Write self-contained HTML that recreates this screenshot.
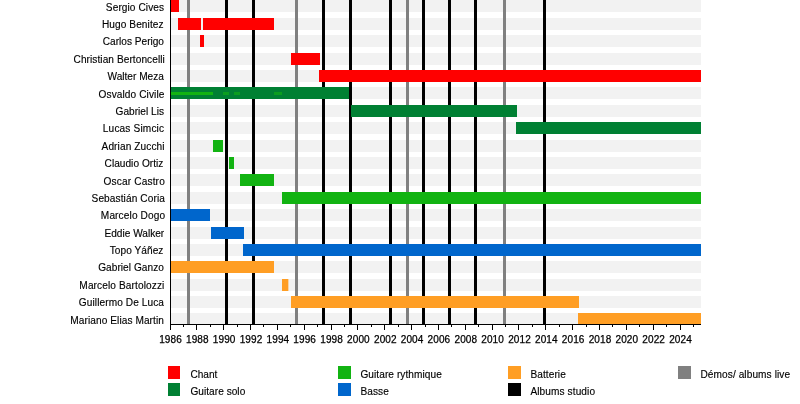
<!DOCTYPE html>
<html lang="fr"><head><meta charset="utf-8"><title>Timeline</title>
<style>html,body{margin:0;padding:0;background:#fff}svg{display:block}text{font-family:"Liberation Sans",Arial,Helvetica,sans-serif;font-size:11px;fill:#000}text{stroke:#000;stroke-width:0.15px}.ax{font-size:10px;letter-spacing:0.1px;stroke-width:0.25px}</style></head><body>
<svg width="800" height="404" viewBox="0 0 800 404">
<rect width="800" height="404" fill="#fff"/>
<g shape-rendering="crispEdges">
<rect x="170" y="0" width="531" height="12" fill="#f2f2f2"/>
<rect x="170" y="18" width="531" height="12" fill="#f2f2f2"/>
<rect x="170" y="35" width="531" height="12" fill="#f2f2f2"/>
<rect x="170" y="53" width="531" height="12" fill="#f2f2f2"/>
<rect x="170" y="70" width="531" height="12" fill="#f2f2f2"/>
<rect x="170" y="87" width="531" height="12" fill="#f2f2f2"/>
<rect x="170" y="105" width="531" height="12" fill="#f2f2f2"/>
<rect x="170" y="122" width="531" height="12" fill="#f2f2f2"/>
<rect x="170" y="140" width="531" height="12" fill="#f2f2f2"/>
<rect x="170" y="157" width="531" height="12" fill="#f2f2f2"/>
<rect x="170" y="174" width="531" height="12" fill="#f2f2f2"/>
<rect x="170" y="192" width="531" height="12" fill="#f2f2f2"/>
<rect x="170" y="209" width="531" height="12" fill="#f2f2f2"/>
<rect x="170" y="227" width="531" height="12" fill="#f2f2f2"/>
<rect x="170" y="244" width="531" height="12" fill="#f2f2f2"/>
<rect x="170" y="261" width="531" height="12" fill="#f2f2f2"/>
<rect x="170" y="279" width="531" height="12" fill="#f2f2f2"/>
<rect x="170" y="296" width="531" height="12" fill="#f2f2f2"/>
<rect x="170" y="313" width="531" height="12" fill="#f2f2f2"/>
<rect x="187" y="0" width="3" height="325" fill="#808080"/>
<rect x="225" y="0" width="3" height="325" fill="#000000"/>
<rect x="252" y="0" width="3" height="325" fill="#000000"/>
<rect x="295" y="0" width="3" height="325" fill="#808080"/>
<rect x="322" y="0" width="3" height="325" fill="#000000"/>
<rect x="349" y="0" width="3" height="325" fill="#000000"/>
<rect x="389" y="0" width="3" height="325" fill="#000000"/>
<rect x="406" y="0" width="3" height="325" fill="#808080"/>
<rect x="422" y="0" width="3" height="325" fill="#000000"/>
<rect x="448" y="0" width="3" height="325" fill="#000000"/>
<rect x="474" y="0" width="3" height="325" fill="#000000"/>
<rect x="503" y="0" width="3" height="325" fill="#808080"/>
<rect x="543" y="0" width="3" height="325" fill="#000000"/>
<rect x="170" y="0" width="9" height="12" fill="#ff0000"/>
<rect x="178" y="18" width="23" height="12" fill="#ff0000"/>
<rect x="203" y="18" width="71" height="12" fill="#ff0000"/>
<rect x="200" y="35" width="4" height="12" fill="#ff0000"/>
<rect x="291" y="53" width="29" height="12" fill="#ff0000"/>
<rect x="319" y="70" width="382" height="12" fill="#ff0000"/>
<rect x="170" y="87" width="179" height="12" fill="#008033"/>
<rect x="351" y="105" width="166" height="12" fill="#008033"/>
<rect x="516" y="122" width="185" height="12" fill="#008033"/>
<rect x="213" y="140" width="10" height="12" fill="#12b312"/>
<rect x="229" y="157" width="5" height="12" fill="#12b312"/>
<rect x="240" y="174" width="34" height="12" fill="#12b312"/>
<rect x="282" y="192" width="419" height="12" fill="#12b312"/>
<rect x="170" y="209" width="40" height="12" fill="#0066cc"/>
<rect x="211" y="227" width="33" height="12" fill="#0066cc"/>
<rect x="243" y="244" width="458" height="12" fill="#0066cc"/>
<rect x="170" y="261" width="104" height="12" fill="#ff9e24"/>
<rect x="282" y="279" width="6" height="12" fill="#ff9e24"/>
<rect x="291" y="296" width="288" height="12" fill="#ff9e24"/>
<rect x="578" y="313" width="123" height="12" fill="#ff9e24"/>
<rect x="170" y="92" width="43" height="3" fill="#12b312" fill-opacity="1"/>
<rect x="223" y="92" width="6" height="3" fill="#12b312" fill-opacity="0.6"/>
<rect x="234" y="92" width="6" height="3" fill="#12b312" fill-opacity="0.6"/>
<rect x="274" y="92" width="8" height="3" fill="#12b312" fill-opacity="0.6"/>
<rect x="288" y="279" width="1" height="12" fill="#ff9e24" fill-opacity="0.35"/>
<rect x="170" y="0" width="1" height="325" fill="#000"/>
<rect x="170" y="324" width="531" height="1" fill="#000"/>
<rect x="170" y="325" width="1" height="5" fill="#000"/>
<rect x="183" y="325" width="1" height="2" fill="#000"/>
<rect x="196" y="325" width="1" height="5" fill="#000"/>
<rect x="210" y="325" width="1" height="2" fill="#000"/>
<rect x="223" y="325" width="1" height="5" fill="#000"/>
<rect x="237" y="325" width="1" height="2" fill="#000"/>
<rect x="250" y="325" width="1" height="5" fill="#000"/>
<rect x="263" y="325" width="1" height="2" fill="#000"/>
<rect x="277" y="325" width="1" height="5" fill="#000"/>
<rect x="290" y="325" width="1" height="2" fill="#000"/>
<rect x="304" y="325" width="1" height="5" fill="#000"/>
<rect x="317" y="325" width="1" height="2" fill="#000"/>
<rect x="331" y="325" width="1" height="5" fill="#000"/>
<rect x="344" y="325" width="1" height="2" fill="#000"/>
<rect x="357" y="325" width="1" height="5" fill="#000"/>
<rect x="371" y="325" width="1" height="2" fill="#000"/>
<rect x="384" y="325" width="1" height="5" fill="#000"/>
<rect x="398" y="325" width="1" height="2" fill="#000"/>
<rect x="411" y="325" width="1" height="5" fill="#000"/>
<rect x="425" y="325" width="1" height="2" fill="#000"/>
<rect x="438" y="325" width="1" height="5" fill="#000"/>
<rect x="451" y="325" width="1" height="2" fill="#000"/>
<rect x="465" y="325" width="1" height="5" fill="#000"/>
<rect x="478" y="325" width="1" height="2" fill="#000"/>
<rect x="492" y="325" width="1" height="5" fill="#000"/>
<rect x="505" y="325" width="1" height="2" fill="#000"/>
<rect x="518" y="325" width="1" height="5" fill="#000"/>
<rect x="532" y="325" width="1" height="2" fill="#000"/>
<rect x="545" y="325" width="1" height="5" fill="#000"/>
<rect x="559" y="325" width="1" height="2" fill="#000"/>
<rect x="572" y="325" width="1" height="5" fill="#000"/>
<rect x="586" y="325" width="1" height="2" fill="#000"/>
<rect x="599" y="325" width="1" height="5" fill="#000"/>
<rect x="612" y="325" width="1" height="2" fill="#000"/>
<rect x="626" y="325" width="1" height="5" fill="#000"/>
<rect x="639" y="325" width="1" height="2" fill="#000"/>
<rect x="653" y="325" width="1" height="5" fill="#000"/>
<rect x="666" y="325" width="1" height="2" fill="#000"/>
<rect x="680" y="325" width="1" height="5" fill="#000"/>
<rect x="693" y="325" width="1" height="2" fill="#000"/>
<rect x="168" y="366" width="12" height="13" fill="#ff0000"/>
<rect x="168" y="383" width="12" height="13" fill="#008033"/>
<rect x="338" y="366" width="13" height="13" fill="#12b312"/>
<rect x="338" y="383" width="13" height="13" fill="#0066cc"/>
<rect x="508" y="366" width="13" height="13" fill="#ff9e24"/>
<rect x="508" y="383" width="13" height="13" fill="#000000"/>
<rect x="678" y="366" width="13" height="13" fill="#808080"/>
</g>
<text transform="translate(105.85,11.00) scale(0.92,1)" letter-spacing="0.094">Sergio Cives</text>
<text transform="translate(101.95,28.00) scale(0.92,1)" letter-spacing="0.094">Hugo Benitez</text>
<text transform="translate(102.75,45.00) scale(0.92,1)" letter-spacing="0.005">Carlos Perigo</text>
<text transform="translate(73.55,63.00) scale(0.92,1)" letter-spacing="0.079">Christian Bertoncelli</text>
<text transform="translate(107.55,80.00) scale(0.92,1)" letter-spacing="0.0">Walter Meza</text>
<text transform="translate(98.55,98.00) scale(0.92,1)" letter-spacing="0.105">Osvaldo Civile</text>
<text transform="translate(115.55,115.00) scale(0.92,1)" letter-spacing="0.027">Gabriel Lis</text>
<text transform="translate(102.85,132.00) scale(0.92,1)" letter-spacing="0.17">Lucas Simcic</text>
<text transform="translate(101.55,150.00) scale(0.92,1)" letter-spacing="0.113">Adrian Zucchi</text>
<text transform="translate(104.55,167.00) scale(0.92,1)" letter-spacing="0.041">Claudio Ortiz</text>
<text transform="translate(103.55,185.00) scale(0.92,1)" letter-spacing="0.17">Oscar Castro</text>
<text transform="translate(91.55,202.00) scale(0.92,1)" letter-spacing="0.113">Sebastián Coria</text>
<text transform="translate(100.85,219.00) scale(0.92,1)" letter-spacing="0.133">Marcelo Dogo</text>
<text transform="translate(104.50,237.00) scale(0.92,1)" letter-spacing="0.0">Eddie Walker</text>
<text transform="translate(109.65,254.00) scale(0.92,1)" letter-spacing="0.072">Topo Yáñez</text>
<text transform="translate(98.15,271.00) scale(0.92,1)" letter-spacing="0.059">Gabriel Ganzo</text>
<text transform="translate(79.35,289.00) scale(0.92,1)" letter-spacing="0.125">Marcelo Bartolozzi</text>
<text transform="translate(78.85,306.00) scale(0.92,1)" letter-spacing="0.099">Guillermo De Luca</text>
<text transform="translate(70.35,324.00) scale(0.92,1)" letter-spacing="0.083">Mariano Elias Martin</text>
<text x="170.5" y="343" text-anchor="middle" class="ax">1986</text>
<text x="197.3" y="343" text-anchor="middle" class="ax">1988</text>
<text x="224.2" y="343" text-anchor="middle" class="ax">1990</text>
<text x="251.0" y="343" text-anchor="middle" class="ax">1992</text>
<text x="277.9" y="343" text-anchor="middle" class="ax">1994</text>
<text x="304.7" y="343" text-anchor="middle" class="ax">1996</text>
<text x="331.6" y="343" text-anchor="middle" class="ax">1998</text>
<text x="358.4" y="343" text-anchor="middle" class="ax">2000</text>
<text x="385.3" y="343" text-anchor="middle" class="ax">2002</text>
<text x="412.1" y="343" text-anchor="middle" class="ax">2004</text>
<text x="438.9" y="343" text-anchor="middle" class="ax">2006</text>
<text x="465.8" y="343" text-anchor="middle" class="ax">2008</text>
<text x="492.6" y="343" text-anchor="middle" class="ax">2010</text>
<text x="519.5" y="343" text-anchor="middle" class="ax">2012</text>
<text x="546.3" y="343" text-anchor="middle" class="ax">2014</text>
<text x="573.2" y="343" text-anchor="middle" class="ax">2016</text>
<text x="600.0" y="343" text-anchor="middle" class="ax">2018</text>
<text x="626.8" y="343" text-anchor="middle" class="ax">2020</text>
<text x="653.7" y="343" text-anchor="middle" class="ax">2022</text>
<text x="680.5" y="343" text-anchor="middle" class="ax">2024</text>
<text transform="translate(190.45,377.8) scale(0.92,1)" letter-spacing="0.0">Chant</text>
<text transform="translate(190.45,394.8) scale(0.92,1)" letter-spacing="0.035">Guitare solo</text>
<text transform="translate(360.45,377.8) scale(0.92,1)" letter-spacing="0.071">Guitare rythmique</text>
<text transform="translate(360.50,394.8) scale(0.92,1)" letter-spacing="0.068">Basse</text>
<text transform="translate(530.50,377.8) scale(0.92,1)" letter-spacing="0.07">Batterie</text>
<text transform="translate(530.45,394.8) scale(0.92,1)" letter-spacing="0.104">Albums studio</text>
<text transform="translate(700.45,377.8) scale(0.92,1)" letter-spacing="0.096">Démos/ albums live</text>
</svg></body></html>
